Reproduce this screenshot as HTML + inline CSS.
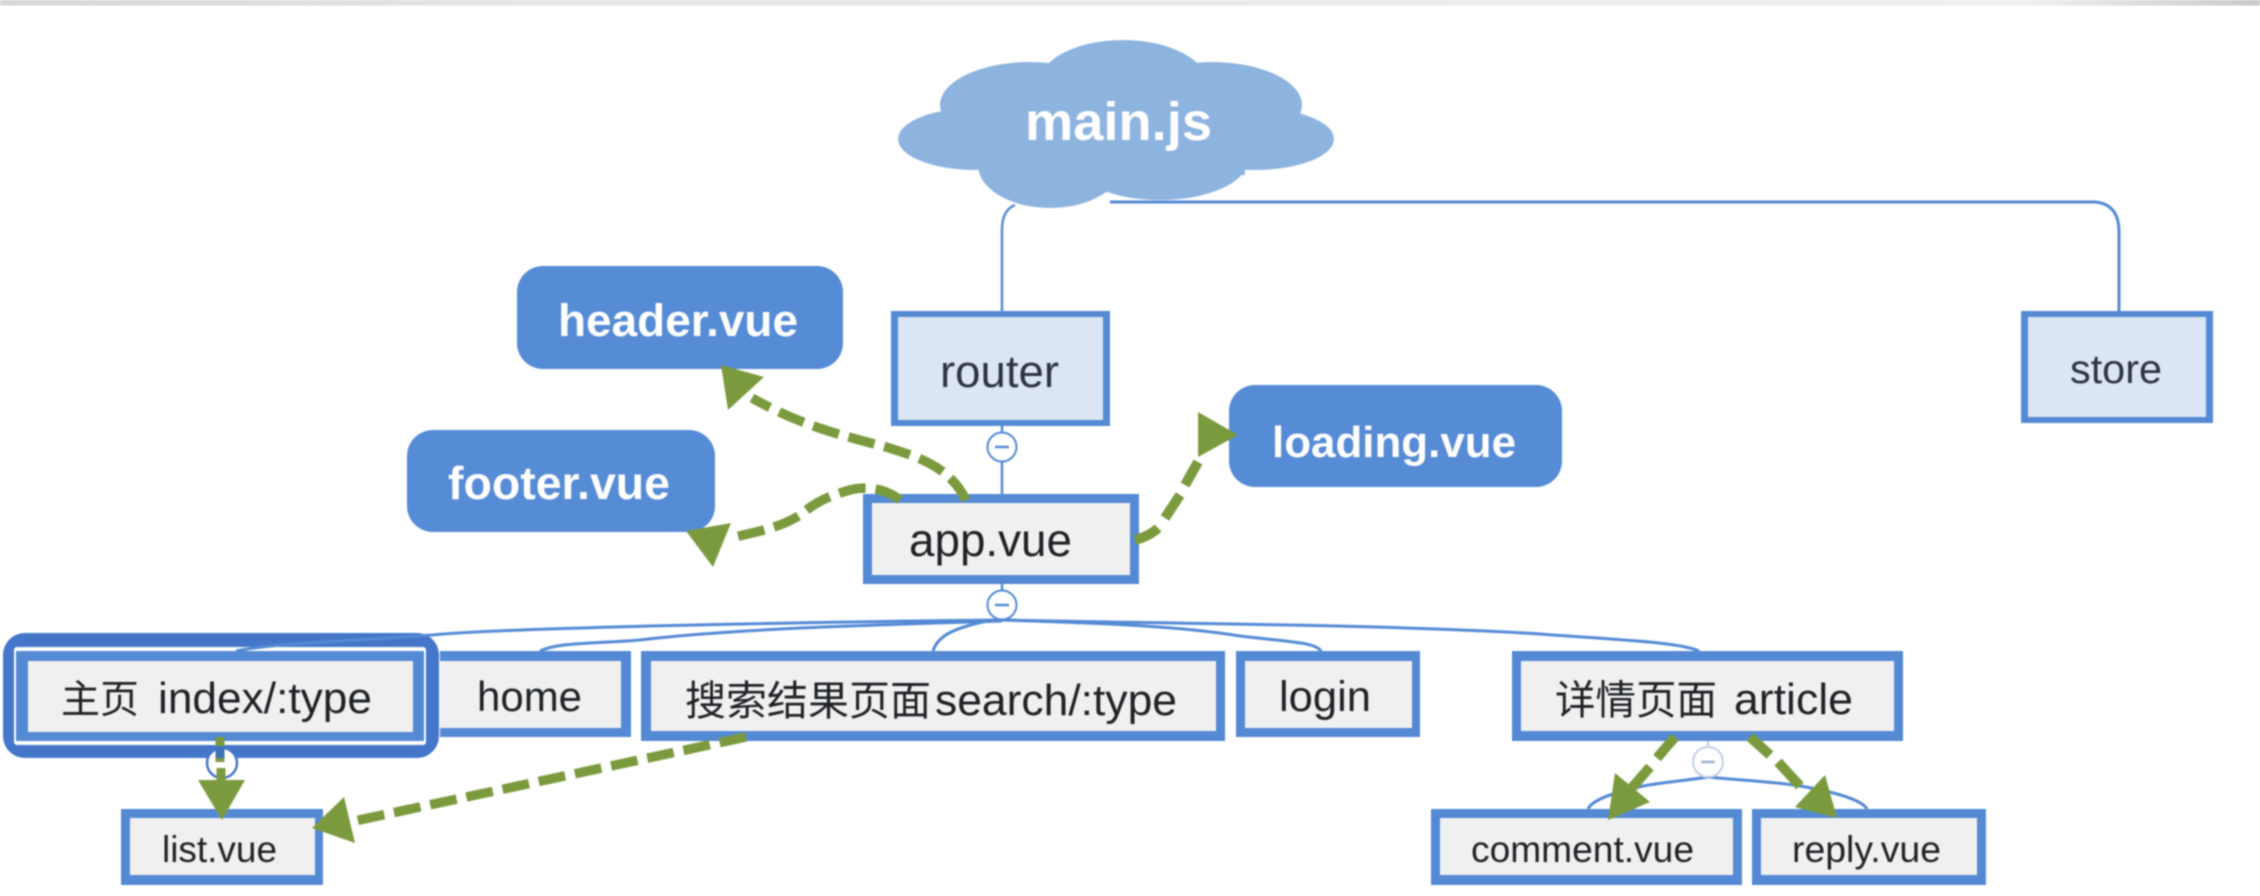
<!DOCTYPE html>
<html><head><meta charset="utf-8"><style>
html,body{margin:0;padding:0;background:#fff;width:2260px;height:896px;overflow:hidden}
svg{display:block;filter:blur(.7px)}
text{font-family:"Liberation Sans","Noto Sans CJK SC",sans-serif;fill:#1f2226;text-anchor:start}
.w{fill:#fff;font-weight:bold}
</style></head><body>
<svg width="2260" height="896" viewBox="0 0 2260 896" xmlns="http://www.w3.org/2000/svg">
<defs><linearGradient id="t" x1="0" x2="1" y1="0" y2="0"><stop offset="0" stop-color="#d6d6d6"/><stop offset=".25" stop-color="#e6e5e4"/><stop offset=".9" stop-color="#eeeeee"/><stop offset="1" stop-color="#c8c8c8"/></linearGradient></defs>
<rect width="2260" height="896" fill="#fff"/>
<rect width="2260" height="5.5" fill="url(#t)"/>

<!-- cloud -->
<g fill="#8db3df">
<ellipse cx="975" cy="139" rx="77" ry="31"/>
<ellipse cx="1255" cy="139" rx="79" ry="31"/>
<ellipse cx="1030" cy="105" rx="90" ry="43"/>
<ellipse cx="1123" cy="85" rx="85" ry="45"/>
<ellipse cx="1212" cy="105" rx="90" ry="43"/>
<ellipse cx="1050" cy="165" rx="72" ry="43"/>
<ellipse cx="1160" cy="160" rx="88" ry="40"/>
<rect x="985" y="100" width="260" height="75"/>
</g>
<text class="w" x="1025" y="140" font-size="54" textLength="187" lengthAdjust="spacingAndGlyphs">main.js</text>

<!-- top tree lines -->
<g fill="none" stroke="#548ad4">
<path d="M1015 205 Q1002 210 1002 230 V312" stroke-width="2.5"/>
<path d="M1110 202 H2095 Q2119 204 2119 232 V312" stroke-width="3"/>
<path d="M1002 426 V494" stroke-width="2.5"/>
<path d="M1002 584 V620" stroke-width="2.5"/>
</g>

<!-- rounded nodes -->
<g fill="#568bd5">
<rect x="517" y="266" width="326" height="103" rx="26"/>
<rect x="407" y="430" width="308" height="102" rx="26"/>
<rect x="1229" y="385" width="333" height="102" rx="26"/>
</g>
<text class="w" x="558" y="336" font-size="45" textLength="240" lengthAdjust="spacingAndGlyphs">header.vue</text>
<text class="w" x="448" y="499" font-size="46" textLength="222" lengthAdjust="spacingAndGlyphs">footer.vue</text>
<text class="w" x="1272" y="457" font-size="44" textLength="244" lengthAdjust="spacingAndGlyphs">loading.vue</text>

<!-- router / store -->
<rect x="891" y="311" width="219" height="115" fill="#548ad4"/><rect x="898" y="317" width="205" height="103" fill="#dbe5f3"/>
<rect x="2021" y="311" width="192" height="112" fill="#548ad4"/><rect x="2028" y="317" width="178" height="100" fill="#dbe5f3"/>
<text x="940" y="387" font-size="45" textLength="119" lengthAdjust="spacingAndGlyphs" style="fill:#2d3440">router</text>
<text x="2070" y="383" font-size="41" textLength="92" lengthAdjust="spacingAndGlyphs" style="fill:#2d3440">store</text>

<!-- app -->
<rect x="863" y="494" width="276" height="90" fill="#548ad4"/><rect x="872" y="503" width="258" height="72" fill="#f0f0f0"/>
<text x="909" y="556" font-size="46" textLength="163" lengthAdjust="spacingAndGlyphs">app.vue</text>

<!-- selected ring -->
<rect x="3" y="633" width="436" height="125" rx="22" fill="#4476ca"/>
<rect x="14" y="647" width="412" height="98" rx="3" fill="#fff"/>

<!-- fan lines -->
<g fill="none" stroke="#548ad4" stroke-width="3">
<path d="M1002 620 C800 622 500 628 432 635 C330 642 270 644 236 651"/>
<path d="M1002 621 C880 625 740 628 640 640 C590 644 560 642 540 651"/>
<path d="M987 621 C955 628 938 635 933 651"/>
<path d="M1002 620 C1100 623 1180 626 1240 636 C1290 642 1315 642 1321 651"/>
<path d="M1002 620 C1200 624 1400 625 1540 634 C1620 640 1680 642 1699 651"/>
<path d="M1708 777 C1690 780 1665 782 1643 786 C1615 792 1592 800 1588 809"/>
<path d="M1708 777 C1735 780 1770 781 1800 786 C1835 792 1862 800 1867 809"/>
</g>

<!-- row boxes -->
<rect x="16" y="651" width="408" height="90" fill="#548ad4"/><rect x="28" y="661" width="385" height="71" fill="#f0f0f0"/>
<rect x="440" y="651" width="191" height="86" fill="#548ad4"/><rect x="440" y="661" width="181" height="67" fill="#f0f0f0"/>
<rect x="641" y="651" width="584" height="90" fill="#548ad4"/><rect x="651" y="661" width="565" height="70" fill="#f0f0f0"/>
<rect x="1236" y="651" width="184" height="86" fill="#548ad4"/><rect x="1245" y="661" width="167" height="67" fill="#f0f0f0"/>
<rect x="1512" y="651" width="391" height="90" fill="#548ad4"/><rect x="1521" y="661" width="373" height="70" fill="#f0f0f0"/>
<rect x="121" y="809" width="202" height="76" fill="#548ad4"/><rect x="130" y="818" width="185" height="57" fill="#f0f0f0"/>
<rect x="1431" y="809" width="311" height="76" fill="#548ad4"/><rect x="1440" y="818" width="293" height="57" fill="#f0f0f0"/>
<rect x="1752" y="809" width="234" height="76" fill="#548ad4"/><rect x="1761" y="818" width="216" height="57" fill="#f0f0f0"/>

<text x="61" y="713" font-size="39">主页</text>
<text x="158" y="713" font-size="44" textLength="214" lengthAdjust="spacingAndGlyphs">index/:type</text>
<text x="477" y="711" font-size="42" textLength="105" lengthAdjust="spacingAndGlyphs">home</text>
<text x="685" y="715" font-size="41">搜索结果页面</text>
<text x="935" y="715" font-size="44" textLength="242" lengthAdjust="spacingAndGlyphs">search/:type</text>
<text x="1279" y="711" font-size="43" textLength="92" lengthAdjust="spacingAndGlyphs">login</text>
<text x="1555" y="714" font-size="40.5">详情页面</text>
<text x="1734" y="714" font-size="44" textLength="119" lengthAdjust="spacingAndGlyphs">article</text>
<text x="162" y="862" font-size="37" textLength="115" lengthAdjust="spacingAndGlyphs">list.vue</text>
<text x="1471" y="862" font-size="37" textLength="223" lengthAdjust="spacingAndGlyphs">comment.vue</text>
<text x="1792" y="862" font-size="37" textLength="149" lengthAdjust="spacingAndGlyphs">reply.vue</text>

<!-- collapse circles -->
<g fill="#fff" stroke="#548ad4" stroke-width="2">
<circle cx="1002" cy="447" r="14.5"/>
<circle cx="1002" cy="605" r="14.5"/>
</g>
<path d="M1708 741 V747" stroke="#c3cfe6" stroke-width="2"/>
<circle cx="1708" cy="762" r="15" fill="#fff" stroke="#c3cfe6" stroke-width="2"/>
<g stroke="#548ad4" stroke-width="2.5">
<path d="M995 447 H1009"/><path d="M995 605 H1009"/>
</g>
<path d="M1701 762 H1715" stroke="#9fb0cf" stroke-width="2.5"/>

<!-- list stem and circle -->
<circle cx="222" cy="763" r="15" fill="#fff" stroke="#4476ca" stroke-width="2.5"/>
<path d="M220 737 V762" stroke="#7b9a3e" stroke-width="9"/>
<path d="M220 746 V758" stroke="#3f72b8" stroke-width="9"/>
<path d="M221 768 V782" stroke="#7b9a3e" stroke-width="9"/>

<!-- green dashed connectors -->
<g fill="none" stroke="#7b9a3e" stroke-width="9.5" stroke-dasharray="27 10">
<path d="M966 500 C950 468 922 458 886 447 C840 435 800 425 752 398"/>
<path d="M900 500 C885 488 865 486 850 490 C825 497 815 503 800 515 C780 528 755 532 731 538"/>
<path d="M746 737 L350 822"/>
</g>
<g fill="none" stroke="#7b9a3e" stroke-width="10">
<path d="M1135 540 Q1150 536 1158 528"/>
<path d="M1165 518 L1180 495"/>
<path d="M1185 485 L1198 462"/>
<path d="M1675 737 L1657 758"/>
<path d="M1650 767 L1630 790"/>
<path d="M1750 737 L1770 755"/>
<path d="M1778 762 L1800 786"/>
</g>
<g fill="#7b9a3e">
<polygon points="721,365 764,377 728,410"/>
<polygon points="713,567 686,531 731,523"/>
<polygon points="1198,412 1238,435 1198,457"/>
<polygon points="312,828 344,797 355,843"/>
<polygon points="198,780 245,780 222,820"/>
<polygon points="1608,820 1615,773 1650,802"/>
<polygon points="1837,818 1795,807 1825,775"/>
</g>
</svg>
</body></html>
